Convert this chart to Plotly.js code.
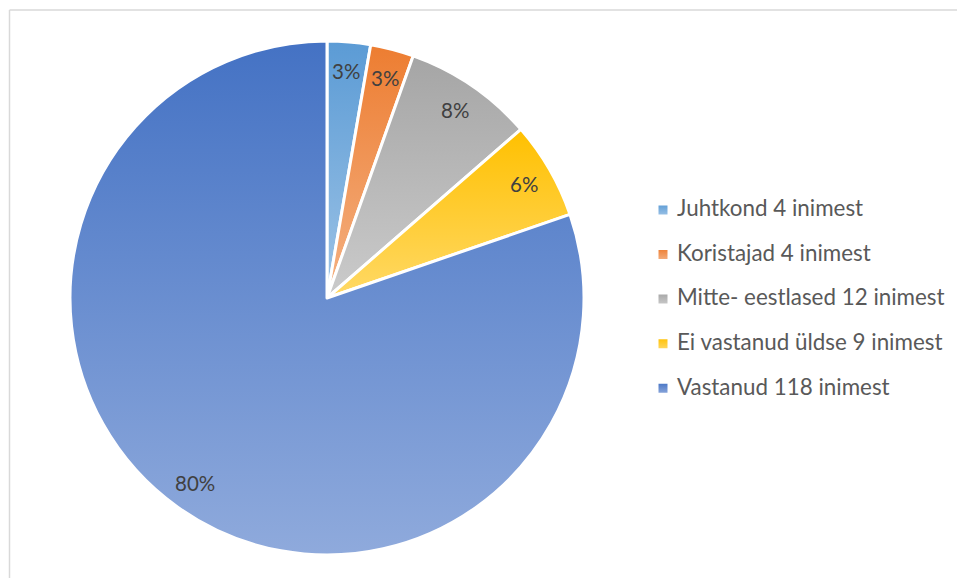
<!DOCTYPE html>
<html>
<head>
<meta charset="utf-8">
<script src="https://cdn.plot.ly/plotly-3.0.1.min.js"></script>
<style>
html,body{margin:0;padding:0;background:#fff;}
#chart{width:957px;height:578px;}
</style>
</head>
<body>
<div id="chart"></div>
<script>
const categories = ["Juhtkond 4 inimest", "Koristajad 4 inimest", "Mitte- eestlased 12 inimest", "Ei vastanud üldse 9 inimest", "Vastanud 118 inimest"];
const values = [4, 4, 12, 9, 118];
const colors = ["#6EA6DB", "#F09A5E", "#B9B9B9", "#FFCB30", "#6A8ED0"];
const gradTop = ["#5B9BD5", "#ED7D31", "#A5A5A5", "#FFC000", "#4472C4"];
const gradBottom = ["#9DC3E6", "#F4B183", "#CBCBCB", "#FFD966", "#8FAADC"];

const W = 957, H = 578;
const font = "Lato, Calibri, Carlito, 'Open Sans', sans-serif";

// pie domain (pixels)
const pieLeft = 70, pieRight = 584, pieTop = 41, pieBottom = 555;
const cx = (pieLeft + pieRight) / 2, cy = (pieTop + pieBottom) / 2;
const R = Math.min(pieRight - pieLeft, pieBottom - pieTop) / 2;

const legendLabels = categories.map(c => "<span style='font-size:22.4px'>" + c + "</span><br>&nbsp;");

const total = values.reduce((a, b) => a + b, 0);
let cum = 0;
const annotations = values.map(v => {
  const mid = (cum + v / 2) / total * 2 * Math.PI;
  cum += v;
  const d = 0.885 * R;
  const px = cx + d * Math.sin(mid), py = cy - d * Math.cos(mid);
  return {
    xref: "paper", yref: "paper", x: px / W, y: 1 - py / H,
    xanchor: "center", yanchor: "middle", showarrow: false,
    text: Math.round(v / total * 100) + "%",
    font: {family: font, size: 20.5, color: "#404040"}
  };
});

const trace = {
  type: "pie",
  labels: legendLabels,
  values: values,
  sort: false,
  direction: "clockwise",
  rotation: 0,
  marker: {colors: colors, line: {color: "#ffffff", width: 3}},
  textinfo: "none",
  hoverinfo: "none",
  domain: {x: [pieLeft / W, pieRight / W], y: [1 - pieBottom / H, 1 - pieTop / H]}
};

const layout = {
  width: W, height: H,
  margin: {l: 0, r: 0, t: 0, b: 0},
  paper_bgcolor: "#ffffff",
  showlegend: true,
  legend: {
    x: 637 / W, xanchor: "left",
    y: 1 - 193 / H, yanchor: "top",
    valign: "top",
    font: {family: font, size: 16, color: "#595959"},
    bgcolor: "rgba(0,0,0,0)"
  },
  annotations: annotations,
  shapes: [
    {type: "line", xref: "paper", yref: "paper", x0: 9.5 / W, x1: 9.5 / W, y0: 0, y1: 1 - 10 / H, line: {color: "#D9D9D9", width: 1.5}},
    {type: "line", xref: "paper", yref: "paper", x0: 9.5 / W, x1: 1, y0: 1 - 10 / H, y1: 1 - 10 / H, line: {color: "#D9D9D9", width: 1.5}}
  ]
};

Plotly.newPlot("chart", [trace], layout, {displayModeBar: false, staticPlot: true}).then(gd => {
  const NS = "http://www.w3.org/2000/svg";
  const svg = gd.querySelector(".main-svg");
  let defs = svg.querySelector("defs");
  if (!defs) { defs = document.createElementNS(NS, "defs"); svg.insertBefore(defs, svg.firstChild); }
  gradTop.forEach((c, i) => {
    const g = document.createElementNS(NS, "linearGradient");
    g.setAttribute("id", "sliceGrad" + i);
    g.setAttribute("x1", "0"); g.setAttribute("y1", "0");
    g.setAttribute("x2", "0"); g.setAttribute("y2", "1");
    const s1 = document.createElementNS(NS, "stop");
    s1.setAttribute("offset", "0"); s1.setAttribute("stop-color", c);
    const s2 = document.createElementNS(NS, "stop");
    s2.setAttribute("offset", "1"); s2.setAttribute("stop-color", gradBottom[i]);
    g.appendChild(s1); g.appendChild(s2);
    defs.appendChild(g);
  });
  gd.querySelectorAll(".pielayer .slice path.surface").forEach((p, i) => {
    p.style.fill = "url(#sliceGrad" + i + ")";
  });
  gd.querySelectorAll(".legend .traces").forEach((t, i) => {
    const p = t.querySelector(".legendpoints path");
    if (p) {
      p.style.fill = "url(#sliceGrad" + i + ")";
      const tr = p.getAttribute("transform") || "";
      p.setAttribute("transform", tr + " translate(6,0)");
    }
  });
});
</script>
</body>
</html>
